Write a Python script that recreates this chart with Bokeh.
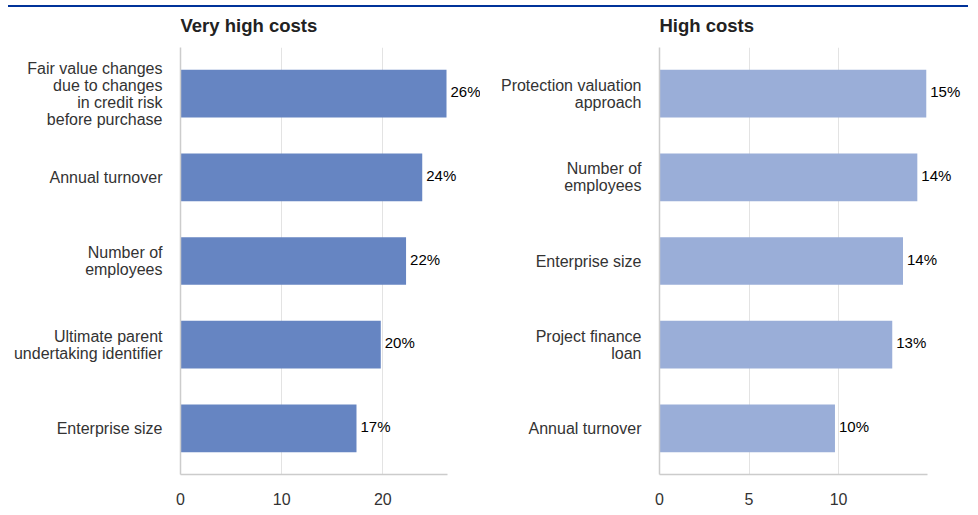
from bokeh.plotting import figure
from bokeh.models import ColumnDataSource, FactorRange, Range1d, FixedTicker, LabelSet, Div, Title
from bokeh.layouts import column, row
from bokeh.core.properties import value
from bokeh.embed import file_html
from bokeh.resources import INLINE

left_title = "Very high costs"
left_cats = ["Fair value changes\ndue to changes\nin credit risk\nbefore purchase",
             "Annual turnover",
             "Number of\nemployees",
             "Ultimate parent\nundertaking identifier",
             "Enterprise size"]
left_vals = [26.3, 23.9, 22.3, 19.8, 17.4]
left_labels = ["26%", "24%", "22%", "20%", "17%"]
left_ticks = [0, 10, 20]
left_axis_end = 26.4

right_title = "High costs"
right_cats = ["Protection valuation\napproach",
              "Number of\nemployees",
              "Enterprise size",
              "Project finance\nloan",
              "Annual turnover"]
right_vals = [14.9, 14.4, 13.6, 13.0, 9.8]
right_labels = ["15%", "14%", "14%", "13%", "10%"]
right_ticks = [0, 5, 10]
right_axis_end = 14.95

FONT = "Liberation Sans"


def make(title, cats, vals, labels, ticks, axis_end, range_end, color, width, bl):
    src = ColumnDataSource(dict(cat=cats, val=vals, lab=labels))
    p = figure(y_range=FactorRange(factors=list(reversed(cats)), range_padding=0.02),
               x_range=Range1d(0, range_end), width=width, height=500,
               output_backend="svg", toolbar_location=None, title=None,
               min_border_left=bl, min_border_right=0, min_border_top=40,
               min_border_bottom=30)
    p.hbar(y="cat", right="val", left=0, height=0.57, source=src,
           fill_color=color, line_color=None)
    p.add_layout(LabelSet(x="val", y="cat", text="lab", source=src, x_offset=4, y_offset=2,
                          text_baseline="middle", text_font_size="15px",
                          text_color="black", text_font=value(FONT)))
    # spacer panel between frame and title
    p.add_layout(Title(text=" ", text_font_size="8px", standoff=1), "above")
    p.add_layout(Title(text=title, text_font=FONT, text_font_size="18.5px",
                       text_font_style="bold", text_color="#222222", align="left",
                       standoff=0), "above")
    p.outline_line_color = None
    p.ygrid.grid_line_color = None
    p.xgrid.ticker = FixedTicker(ticks=ticks)
    p.xgrid.grid_line_color = "#e3e3e3"
    p.xaxis.ticker = FixedTicker(ticks=ticks)
    p.xaxis.bounds = (0, axis_end)
    for ax in (p.xaxis, p.yaxis):
        ax.axis_line_color = "#cccccc"
        ax.axis_line_width = 1.5
        ax.major_tick_line_color = None
        ax.minor_tick_line_color = None
        ax.major_tick_out = 0
        ax.major_tick_in = 0
        ax.major_label_text_font = FONT
        ax.major_label_text_font_size = "16px"
        ax.major_label_text_color = "#333333"
    p.xaxis.major_label_standoff = 18
    p.yaxis.major_label_standoff = 18
    p.yaxis.major_label_text_line_height = 1.0
    return p


p1 = make(left_title, left_cats, left_vals, left_labels, left_ticks,
          left_axis_end, 29.66, "#6685c2", 480, 180)
p2 = make(right_title, right_cats, right_vals, right_labels, right_ticks,
          right_axis_end, 17.37, "#9aaed8", 490, 179)

top_line = Div(text="", width=960, height=2, margin=(5, 0, 0, 8),
               styles={"background-color": "#003299"})
layout = column(top_line, row(p1, p2), spacing=0)

open("out.html", "w").write(file_html(layout, INLINE))
